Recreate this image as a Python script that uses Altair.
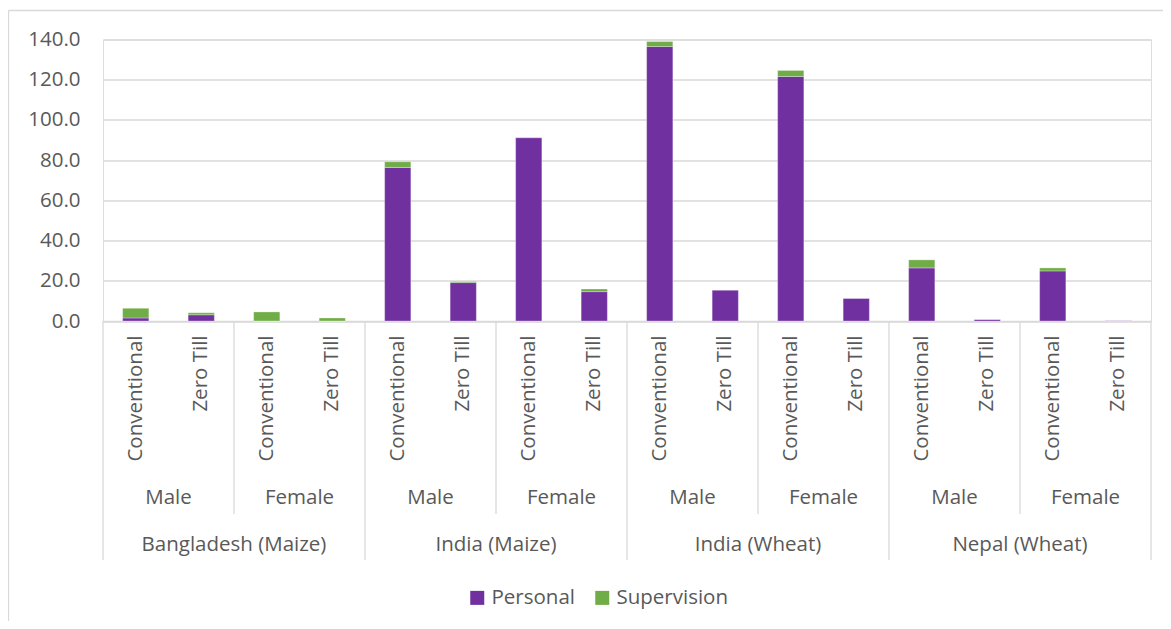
import altair as alt
import pandas as pd

countries = ["Bangladesh (Maize)", "India (Maize)", "India (Wheat)", "Nepal (Wheat)"]
genders = ["Male", "Female"]
tillage = ["Conventional", "Zero Till"]
personal = [1.5, 3.1, 0.0, 0.0, 76.4, 19.1, 91.2, 14.6,
            136.5, 15.4, 121.6, 11.3, 26.4, 0.8, 24.9, 0.2]
supervision = [4.8, 1.0, 4.5, 1.5, 2.8, 0.5, 0.0, 1.3,
               2.5, 0.0, 3.0, 0.0, 4.0, 0.0, 1.5, 0.0]
series = ["Personal", "Supervision"]
colors = ["#7030A0", "#70AD47"]
y_ticks = [0, 20, 40, 60, 80, 100, 120, 140]

FONT = "Open Sans"
FS = 20.5
TXT = "#595959"
GRID = "#d9d9d9"

keys = []
rows = []
i = 0
for c in countries:
    for g in genders:
        for t in tillage:
            k = f"{c}|{g}|{t}"
            keys.append(k)
            rows.append({"key": k, "component": "Personal", "value": personal[i], "ord": 0})
            rows.append({"key": k, "component": "Supervision", "value": supervision[i], "ord": 1})
            i += 1
df = pd.DataFrame(rows)

gender_df = pd.DataFrame([{"key": f"{c}|{g}|Zero Till", "label": g} for c in countries for g in genders])
country_df = pd.DataFrame([{"key": f"{c}|Female|Conventional", "label": c} for c in countries])
gsep_df = pd.DataFrame([{"key": f"{c}|Female|Conventional"} for c in countries])
csep_df = pd.DataFrame([{"key": f"{c}|Male|Conventional"} for c in countries])
last_df = pd.DataFrame([{"key": keys[-1]}])

xscale = alt.Scale(domain=keys, paddingInner=0, paddingOuter=0)

bars = alt.Chart(df).mark_bar(width=alt.RelativeBandSize(0.4), stroke="white",
                              strokeWidth=0.6, strokeOpacity=0.5).encode(
    x=alt.X("key:N", sort=keys, scale=xscale, title=None,
            axis=alt.Axis(labelExpr="split(datum.label, '|')[2]", labelAngle=270,
                          ticks=False, labelPadding=14, domainColor=GRID, domainWidth=1.3,
                          labelFont=FONT, labelFontSize=FS, labelColor=TXT,
                          labelLimit=300, labelOverlap=False)),
    y=alt.Y("value:Q", stack="zero", title=None,
            scale=alt.Scale(domain=[0, 140], nice=False),
            axis=alt.Axis(values=y_ticks, format=".1f", domain=False, ticks=False,
                          gridColor=GRID, gridWidth=1.3, labelPadding=23,
                          labelFont=FONT, labelFontSize=FS, labelColor=TXT)),
    color=alt.Color("component:N", scale=alt.Scale(domain=series, range=colors),
                    legend=alt.Legend(title=None, orient="none", legendX=364, legendY=548,
                                      direction="horizontal", symbolType="square",
                                      symbolSize=196, symbolStrokeWidth=0,
                                      labelFont=FONT, labelFontSize=FS, labelColor=TXT,
                                      labelOffset=4, columnPadding=17)),
    order=alt.Order("ord:Q"),
)

gtext = alt.Chart(gender_df).mark_text(font=FONT, fontSize=FS, color=TXT, baseline="middle").encode(
    x=alt.X("key:N", sort=keys, bandPosition=0),
    y=alt.value(458.5),
    text="label:N",
)
ctext = alt.Chart(country_df).mark_text(font=FONT, fontSize=FS, color=TXT, baseline="middle").encode(
    x=alt.X("key:N", sort=keys, bandPosition=0),
    y=alt.value(505.5),
    text="label:N",
)
gsep = alt.Chart(gsep_df).mark_rule(color=GRID, strokeWidth=1.3).encode(
    x=alt.X("key:N", sort=keys, bandPosition=0),
    y=alt.value(281.5), y2=alt.value(474.5),
)
csep = alt.Chart(csep_df).mark_rule(color=GRID, strokeWidth=1.3).encode(
    x=alt.X("key:N", sort=keys, bandPosition=0),
    y=alt.value(281.5), y2=alt.value(520.5),
)
lsep = alt.Chart(last_df).mark_rule(color=GRID, strokeWidth=1.3).encode(
    x=alt.X("key:N", sort=keys, bandPosition=1),
    y=alt.value(281.5), y2=alt.value(520.5),
)
border_df = pd.DataFrame({"a": [0]})
bleft = alt.Chart(border_df).mark_rule(color=GRID, strokeWidth=1.3).encode(
    x=alt.value(-94.5), y=alt.value(-29), y2=alt.value(600))
btop = alt.Chart(border_df).mark_rule(color=GRID, strokeWidth=1.3).encode(
    x=alt.value(-94.5), x2=alt.value(1070), y=alt.value(-29))

chart = alt.layer(bars, gsep, csep, lsep, gtext, ctext, bleft, btop).properties(
    width=1048, height=281.5,
    autosize=alt.AutoSizeParams(type="none"),
    padding={"left": 95, "top": 31.5, "right": 12, "bottom": 300},
).configure_view(stroke=None).configure(background="white")

chart.save("out.html", embed_options={"renderer": "svg", "actions": False})
